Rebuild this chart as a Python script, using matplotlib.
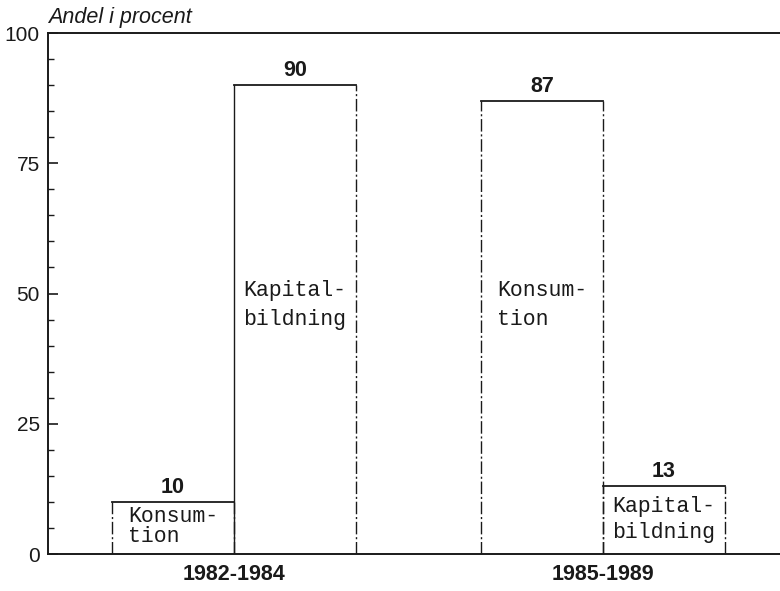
import matplotlib
matplotlib.use("Agg")
import matplotlib.pyplot as plt
import numpy as np

periods = ["1982-1984", "1985-1989"]
konsumtion = [10, 87]
kapitalbildning = [90, 13]
konsum_label = "Konsum-\ntion"
kapital_label = "Kapital-\nbildning"
yticks = [0, 25, 50, 75, 100]
ylabel = "Andel i procent"

fig = plt.figure(figsize=(7.8, 5.91), dpi=100)
ax = fig.add_axes([0.0615, 0.0626, 0.9385, 0.8815])

x = np.arange(len(periods))
w = 0.33
ink = "#1a1a1a"
dash = (0, (9, 2, 1.5, 2))

series = [(konsumtion, -w, konsum_label), (kapitalbildning, 0.0, kapital_label)]
for gi in range(len(periods)):
    for si, (vals, off, lab) in enumerate(series):
        left = x[gi] + off
        right = left + w
        h = vals[gi]
        ax.bar(left, h, width=w, align="edge", color="white", edgecolor="none", zorder=1)
        ax.plot([left, right], [h, h], color=ink, lw=1.3, zorder=3)
        lstyle = "-" if (gi == 0 and si == 1) else dash
        ax.plot([left, left], [0, h], color=ink, lw=1.0, ls=lstyle, zorder=3)
        ax.plot([right, right], [0, h], color=ink, lw=1.0, ls=dash, zorder=3)
        ax.text(left + w / 2, h + 0.8, str(h), ha="center", va="bottom",
                fontsize=15.5, fontweight="bold", family="Liberation Sans", color=ink)
        if h > 30:
            ty, ls_ = 47.8, 1.45
        elif h < 11:
            ty, ls_ = 5.3, 0.95
        else:
            ty, ls_ = 6.6, 1.3
        ax.text(left + w / 2, ty, lab, ha="center", va="center", multialignment="left",
                fontsize=15.5, family="Liberation Mono", color=ink, linespacing=ls_)

ax.set_xlim(-0.504, 1.48)
ax.set_ylim(0, 100)
ax.set_xticks(x)
ax.set_xticklabels(periods, fontsize=15.5, fontweight="bold", family="Liberation Sans", color=ink)
ax.tick_params(axis="x", length=0, pad=7)
ax.set_yticks(yticks)
ax.set_yticklabels([str(t) for t in yticks], fontsize=15, family="Liberation Sans", color=ink)
ax.set_yticks(np.arange(0, 101, 5), minor=True)
ax.tick_params(axis="y", which="major", direction="in", length=7, width=1.2, pad=6, color=ink)
ax.tick_params(axis="y", which="minor", direction="in", length=4, width=1.0, color=ink)

ax.spines["right"].set_visible(False)
for s in ["top", "bottom", "left"]:
    ax.spines[s].set_color(ink)
    ax.spines[s].set_linewidth(1.4)

fig.text(48 / 780, 1 - 23 / 591, ylabel, ha="left", va="baseline", fontsize=15.5,
         style="italic", family="Liberation Sans", color=ink)

fig.savefig("out.png", dpi=100, facecolor="white")
